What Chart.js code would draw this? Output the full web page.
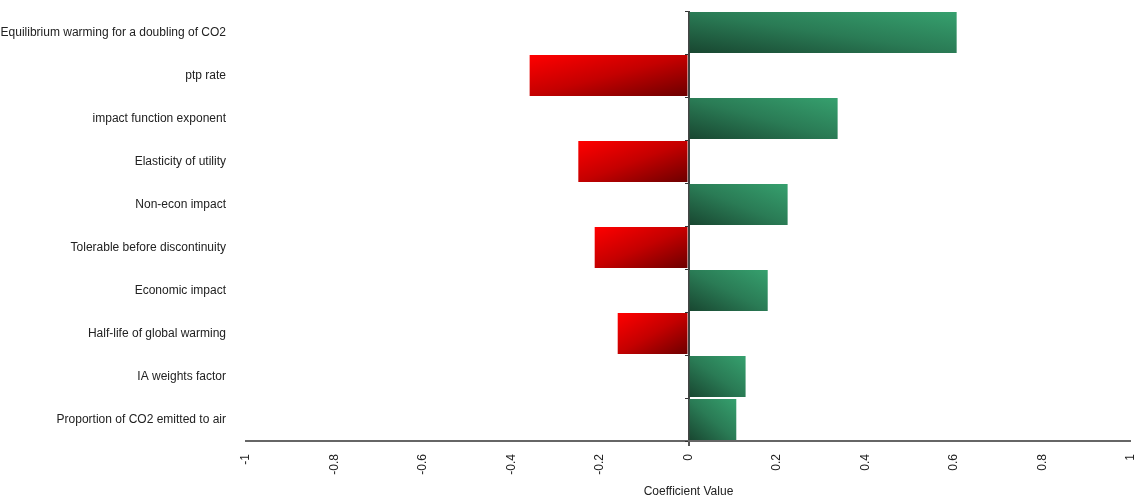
<!DOCTYPE html>
<html>
<head>
<meta charset="utf-8">
<script src="https://cdn.jsdelivr.net/npm/chart.js@4/dist/chart.umd.min.js"></script>
<style>
  html, body { margin: 0; padding: 0; background: #fff; }
  #wrap { width: 1139px; height: 502px; position: relative; }
</style>
</head>
<body>
<div id="wrap"><canvas id="c" width="1139" height="502"></canvas></div>
<script>
const categories = [
  "Equilibrium warming for a doubling of CO2",
  "ptp rate",
  "impact function exponent",
  "Elasticity of utility",
  "Non-econ impact",
  "Tolerable before discontinuity",
  "Economic impact",
  "Half-life of global warming",
  "IA weights factor",
  "Proportion of CO2 emitted to air"
];
const coefficients = [0.606, -0.359, 0.337, -0.249, 0.224, -0.212, 0.179, -0.160, 0.129, 0.108];
const xTicks = [-1, -0.8, -0.6, -0.4, -0.2, 0, 0.2, 0.4, 0.6, 0.8, 1];
const xTitle = "Coefficient Value";

const FONT = "'Liberation Sans', Arial, sans-serif";
const BAR_PCT = 0.95;

function barFill(context) {
  const chart = context.chart;
  const area = chart.chartArea;
  if (!area) return '#2e7d57';
  const v = context.raw;
  const xs = chart.scales.x, ys = chart.scales.y;
  const px0 = xs.getPixelForValue(0), px1 = xs.getPixelForValue(v);
  const step = Math.abs(ys.getPixelForValue(1) - ys.getPixelForValue(0));
  const h = step * BAR_PCT;
  const yc = ys.getPixelForValue(context.dataIndex);
  const top = yc - h / 2, bot = yc + h / 2;
  const left = Math.min(px0, px1), w = Math.max(1, Math.abs(px1 - px0));
  const k = 2 * w * h / (w * w + h * h);
  const ctx = chart.ctx;
  let g;
  if (v >= 0) {
    // bounding-box diagonal: dark bottom-left -> light top-right
    g = ctx.createLinearGradient(left, bot, left + h * k, bot - w * k);
    g.addColorStop(0, '#184630');
    g.addColorStop(0.5, '#2a7b55');
    g.addColorStop(1, '#36a06e');
  } else {
    // bright top-left -> dark bottom-right
    g = ctx.createLinearGradient(left, top, left + h * k, top + w * k);
    g.addColorStop(0, '#ff0000');
    g.addColorStop(0.5, '#c40000');
    g.addColorStop(1, '#6c0000');
  }
  return g;
}

const zeroTicks = {
  id: 'zeroTicks',
  afterDatasetsDraw(chart) {
    const xs = chart.scales.x, ys = chart.scales.y, ctx = chart.ctx;
    const x0 = Math.round(xs.getPixelForValue(0));
    ctx.save();
    ctx.strokeStyle = '#333';
    ctx.lineWidth = 1;
    for (let i = 0; i <= categories.length; i++) {
      const y = Math.round(ys.getPixelForValue(i - 0.5)) + 0.5;
      ctx.beginPath();
      ctx.moveTo(x0 - 4, y);
      ctx.lineTo(x0 - 1, y);
      ctx.stroke();
    }
    ctx.restore();
  }
};

new Chart(document.getElementById('c'), {
  type: 'bar',
  data: {
    labels: categories,
    datasets: [{
      data: coefficients,
      backgroundColor: barFill,
      borderWidth: 0,
      barPercentage: BAR_PCT,
      categoryPercentage: 1.0
    }]
  },
  options: {
    indexAxis: 'y',
    responsive: false,
    animation: false,
    devicePixelRatio: 1,
    layout: { padding: { top: 11, right: 8, left: 0, bottom: 0 } },
    plugins: { legend: { display: false }, tooltip: { enabled: false } },
    scales: {
      x: {
        type: 'linear',
        min: -1, max: 1,
        afterBuildTicks(scale) { scale.ticks = xTicks.map(v => ({ value: v })); },
        afterFit(scale) { scale.height = 61; scale.paddingLeft = 0; scale.paddingRight = 0; },
        border: { display: true, color: '#666', width: 2 },
        grid: {
          drawOnChartArea: true,
          drawTicks: true,
          tickLength: 5,
          tickColor: '#555',
          color: (c) => (c.tick && c.tick.value === 0) ? '#444' : 'rgba(0,0,0,0)',
          lineWidth: (c) => (c.tick && c.tick.value === 0) ? 2 : 0
        },
        ticks: {
          minRotation: 90, maxRotation: 90,
          padding: 8,
          color: '#222',
          font: { family: FONT, size: 12 },
          callback: (v) => String(Math.round(v * 10) / 10)
        },
        title: {
          display: true, text: xTitle, color: '#222',
          font: { family: FONT, size: 12 }, padding: { top: 0, bottom: 3 }
        }
      },
      y: {
        type: 'category',
        afterFit(scale) { scale.width = 246; scale.paddingTop = 0; scale.paddingBottom = 0; },
        border: { display: false },
        grid: { display: false },
        ticks: { color: '#222', padding: 12, font: { family: FONT, size: 12 } }
      }
    }
  },
  plugins: [zeroTicks]
});
</script>
</body>
</html>
